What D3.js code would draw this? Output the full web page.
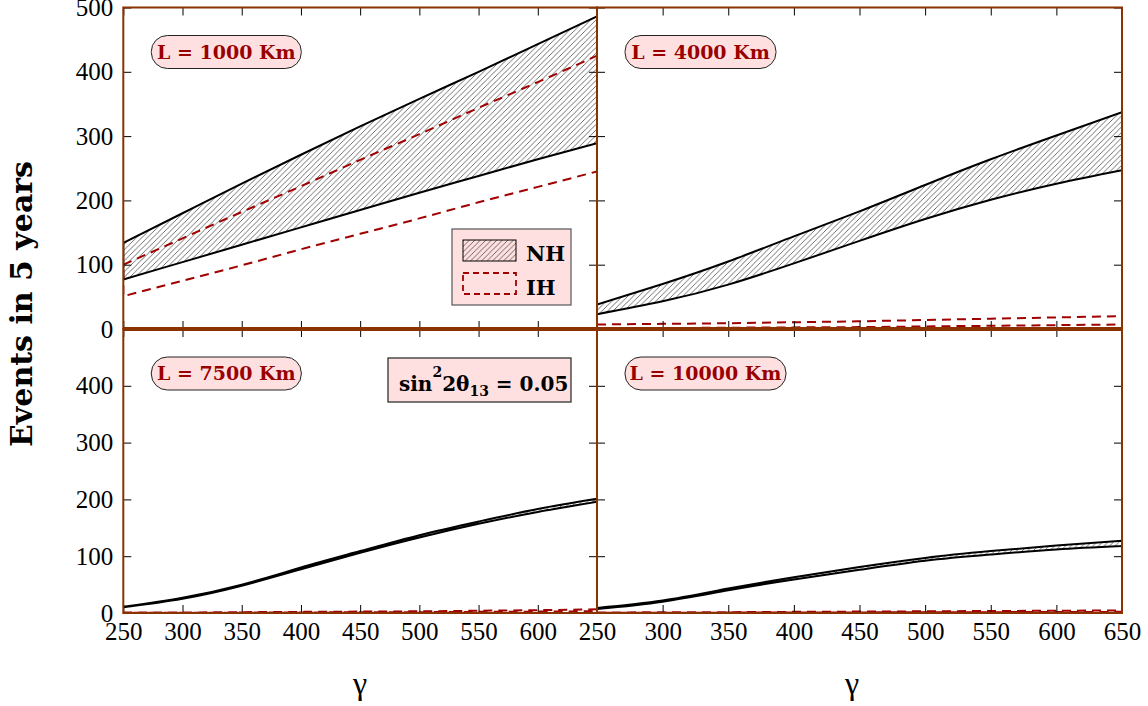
<!DOCTYPE html>
<html>
<head>
<meta charset="utf-8">
<script src="https://cdn.jsdelivr.net/npm/d3@7"></script>
<style>
  html, body { margin: 0; padding: 0; background: #fff; }
  svg { display: block; }
</style>
</head>
<body>
<svg id="chart" width="1148" height="706"></svg>
<script>
// ---------------- data ----------------
const gamma = [250, 300, 350, 400, 450, 500, 550, 600, 650];
const xTicks = [250, 300, 350, 400, 450, 500, 550, 600, 650];
const yTicks = [0, 100, 200, 300, 400, 500];
const panelLabels = ["L = 1000 Km", "L = 4000 Km", "L = 7500 Km", "L = 10000 Km"];
const legendLabels = ["NH", "IH"];
const xTitle = "γ";
const yTitle = "Events in 5 years";

// L = 1000 km
const nhUpper1000 = [134, 180, 226, 271, 315, 358, 400, 443, 486];
const nhLower1000 = [77, 104, 131, 158, 185, 212, 238, 264, 289];
const ihUpper1000 = [100, 141, 182, 222, 263, 303, 344, 384, 425];
const ihLower1000 = [51, 75, 99, 124, 148, 172, 197, 221, 245];
// L = 4000 km
const nhUpper4000 = [38, 70, 105, 144, 183, 224, 264, 301, 337];
const nhLower4000 = [23, 43, 69, 102, 137, 171, 201, 226, 247];
const ihUpper4000 = [7, 8, 9, 10.5, 12, 14, 16, 18, 20];
const ihLower4000 = [1, 1.5, 2, 2.5, 3, 4, 5, 6, 7];
// L = 7500 km
const nhUpper7500 = [11, 27, 50, 80, 109, 137, 161, 183, 201];
const nhLower7500 = [10, 25, 48, 77, 106, 133, 157, 178, 196];
const ihUpper7500 = [1, 1, 1.5, 2, 2.5, 3, 4, 5, 6.5];
const ihLower7500 = [0.3, 0.5, 0.7, 1, 1.2, 1.5, 2, 2.5, 3];
// L = 10000 km
const nhUpper10000 = [9, 22, 43, 63, 81, 97, 109, 119, 127];
const nhLower10000 = [7, 20, 40, 59, 76, 92, 103, 112, 118];
const ihUpper10000 = [1, 1.2, 1.5, 2, 2.5, 3, 3.5, 4, 4.5];
const ihLower10000 = [0.3, 0.5, 0.7, 0.9, 1.1, 1.3, 1.5, 1.8, 2];

// ---------------- layout ----------------
const svg = d3.select("#chart");
const BORDER = "#8a3300";
const RED = "#a00000";
const PINK = "#ffe0e0";
const LABEL_RED = "#990000";

const colX = [[123.3, 597], [597, 1122]];
const rowY = [[7.5, 329], [329, 613]];

const panels = [
  { col: 0, row: 0, label: panelLabels[0], nhU: nhUpper1000, nhL: nhLower1000, ihU: ihUpper1000, ihL: ihLower1000, labW: 150 },
  { col: 1, row: 0, label: panelLabels[1], nhU: nhUpper4000, nhL: nhLower4000, ihU: ihUpper4000, ihL: ihLower4000, labW: 151 },
  { col: 0, row: 1, label: panelLabels[2], nhU: nhUpper7500, nhL: nhLower7500, ihU: ihUpper7500, ihL: ihLower7500, labW: 150 },
  { col: 1, row: 1, label: panelLabels[3], nhU: nhUpper10000, nhL: nhLower10000, ihU: ihUpper10000, ihL: ihLower10000, labW: 161 }
];

// hatch pattern
const defs = svg.append("defs");
const pat = defs.append("pattern")
  .attr("id", "hatch")
  .attr("patternUnits", "userSpaceOnUse")
  .attr("width", 5.5).attr("height", 5.5);
pat.append("path")
  .attr("d", "M-1,1 L1,-1 M0,5.5 L5.5,0 M4.5,6.5 L6.5,4.5")
  .attr("stroke", "#333").attr("stroke-width", 0.7).attr("fill", "none");

const fontSerif = "'Liberation Serif', 'Times New Roman', 'Nimbus Roman', 'DejaVu Serif', serif";
const fontBold = "'DejaVu Serif', serif";

panels.forEach((p, i) => {
  const [x0, x1] = colX[p.col];
  const [y0, y1] = rowY[p.row];
  const x = d3.scaleLinear().domain([250, 650]).range([x0, x1]);
  const y = d3.scaleLinear().domain([0, 500]).range([y1, y0]);

  defs.append("clipPath").attr("id", "clip" + i)
    .append("rect").attr("x", x0).attr("y", y0).attr("width", x1 - x0).attr("height", y1 - y0);

  const g = svg.append("g");
  const gData = g.append("g").attr("clip-path", `url(#clip${i})`);

  const nh = gamma.map((gv, k) => ({ g: gv, lo: p.nhL[k], hi: p.nhU[k] }));
  const ih = gamma.map((gv, k) => ({ g: gv, lo: p.ihL[k], hi: p.ihU[k] }));
  const area = d3.area().x(d => x(d.g)).y0(d => y(d.lo)).y1(d => y(d.hi)).curve(d3.curveNatural);

  // NH hatched fill
  gData.append("path").datum(nh).attr("d", area).attr("fill", "url(#hatch)").attr("stroke", "none");
  // IH dashed band
  gData.append("path").datum(ih).attr("d", area)
    .attr("fill", "none").attr("stroke", RED).attr("stroke-width", 2)
    .attr("stroke-dasharray", "9,6");
  // NH outline
  gData.append("path").datum(nh).attr("d", area)
    .attr("fill", "none").attr("stroke", "#000").attr("stroke-width", 2).attr("stroke-linejoin", "round");

  // ticks (inside, all four sides)
  const tl = 8;
  const axB = g.append("g").attr("transform", `translate(0,${y1})`)
    .call(d3.axisBottom(x).tickValues(xTicks).tickSize(-tl).tickFormat(""));
  const axT = g.append("g").attr("transform", `translate(0,${y0})`)
    .call(d3.axisTop(x).tickValues(xTicks).tickSize(-tl).tickFormat(""));
  const axL = g.append("g").attr("transform", `translate(${x0},0)`)
    .call(d3.axisLeft(y).tickValues(yTicks).tickSize(-tl).tickFormat(""));
  const axR = g.append("g").attr("transform", `translate(${x1},0)`)
    .call(d3.axisRight(y).tickValues(yTicks).tickSize(-tl).tickFormat(""));
  [axB, axT, axL, axR].forEach(a => {
    a.select(".domain").remove();
    a.selectAll(".tick line").attr("stroke", "#000").attr("stroke-width", 1);
  });

  // tick labels
  if (p.col === 0) {
    const yl = g.append("g").attr("transform", `translate(${x0},0)`)
      .call(d3.axisLeft(y).tickValues(p.row === 0 ? yTicks : yTicks.slice(0, 5)).tickSize(0).tickPadding(10));
    yl.select(".domain").remove();
    yl.attr("font-family", null);
    yl.selectAll("text").style("font-family", fontSerif).style("font-size", "25px").attr("fill", "#000");
  }
  if (p.row === 1) {
    const xl = g.append("g").attr("transform", `translate(0,${y1})`)
      .call(d3.axisBottom(x).tickValues(p.col === 0 ? xTicks.slice(0, 8) : xTicks).tickSize(0).tickPadding(9));
    xl.select(".domain").remove();
    xl.attr("font-family", null);
    xl.selectAll("text").style("font-family", fontSerif).style("font-size", "25px").attr("fill", "#000");
  }

  // panel border
  g.append("rect").attr("x", x0).attr("y", y0).attr("width", x1 - x0).attr("height", y1 - y0)
    .attr("fill", "none").attr("stroke", BORDER).attr("stroke-width", 2);

  // panel label (pill)
  const lx = x0 + 28, ly = y0 + 28;
  g.append("rect").attr("x", lx).attr("y", ly).attr("width", p.labW).attr("height", 33)
    .attr("rx", 16).attr("ry", 16)
    .attr("fill", PINK).attr("stroke", "#222").attr("stroke-width", 1);
  g.append("text").attr("x", lx + p.labW / 2).attr("y", ly + 23)
    .attr("text-anchor", "middle")
    .style("font-family", fontBold).attr("font-weight", "bold").style("font-size", "19px")
    .attr("fill", LABEL_RED).text(p.label);
});

// middle horizontal divider (thick)
svg.append("line").attr("x1", colX[0][0]).attr("x2", colX[1][1]).attr("y1", 329).attr("y2", 329)
  .attr("stroke", BORDER).attr("stroke-width", 4);

// legend (top-left panel)
const lg = svg.append("g");
lg.append("rect").attr("x", 452).attr("y", 229).attr("width", 119).attr("height", 76)
  .attr("fill", PINK).attr("stroke", "#555").attr("stroke-width", 1.2);
lg.append("rect").attr("x", 463).attr("y", 240).attr("width", 53).attr("height", 21)
  .attr("fill", "url(#hatch)").attr("stroke", "#000").attr("stroke-width", 1);
lg.append("rect").attr("x", 463).attr("y", 273).attr("width", 53).attr("height", 21)
  .attr("fill", "none").attr("stroke", RED).attr("stroke-width", 1.8).attr("stroke-dasharray", "6,4");
lg.append("text").attr("x", 526).attr("y", 261).text(legendLabels[0])
  .style("font-family", fontBold).attr("font-weight", "bold").style("font-size", "21px").attr("fill", "#000");
lg.append("text").attr("x", 526).attr("y", 295).text(legendLabels[1])
  .style("font-family", fontBold).attr("font-weight", "bold").style("font-size", "21px").attr("fill", "#000");

// sin^2 2theta13 box (bottom-left panel)
svg.append("rect").attr("x", 388).attr("y", 358).attr("width", 183).attr("height", 44)
  .attr("fill", PINK).attr("stroke", "#222").attr("stroke-width", 1.2);
const st = svg.append("text").attr("x", 399).attr("y", 391)
  .style("font-family", fontBold).attr("font-weight", "bold").style("font-size", "20px").attr("fill", "#000");
st.append("tspan").text("sin");
st.append("tspan").attr("dy", -14).style("font-size", "14px").text("2");
st.append("tspan").attr("dy", 14).text("2θ");
st.append("tspan").attr("dy", 5).style("font-size", "14px").text("13");
st.append("tspan").attr("dy", -5).text(" = 0.05");

// axis titles
svg.append("text").attr("transform", "translate(32,304) rotate(-90)")
  .attr("text-anchor", "middle")
  .style("font-family", fontBold).attr("font-weight", "bold").style("font-size", "30px").attr("fill", "#000")
  .text(yTitle);
[[360, 694], [852, 694]].forEach(([tx, ty]) => {
  svg.append("text").attr("x", tx).attr("y", ty).attr("text-anchor", "middle")
    .style("font-family", fontSerif).style("font-size", "32px").attr("fill", "#000").text(xTitle);
});
</script>
</body>
</html>
